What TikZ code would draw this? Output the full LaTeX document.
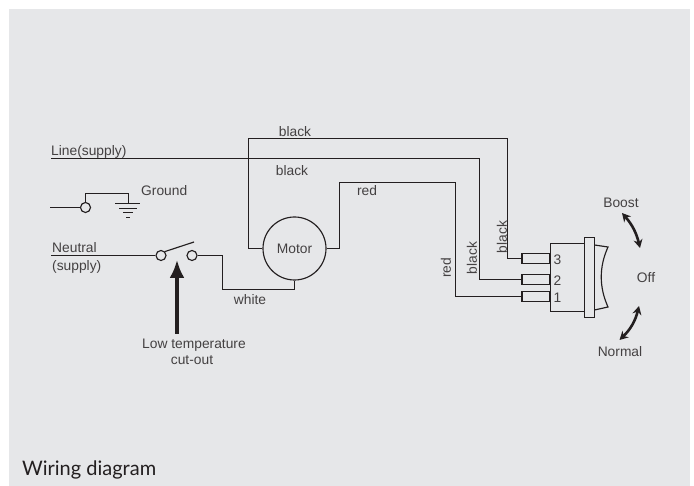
\documentclass[tikz,border=0pt]{standalone}
\usepackage{fontspec}
\newfontfamily\labfont{Liberation Sans}
\newfontfamily\capfont{Lato}
\usetikzlibrary{arrows.meta}
\definecolor{panel}{HTML}{E6E7E9}
\definecolor{ink}{HTML}{231F20}
\tikzset{
  wire/.style={draw=ink,line width=1.15pt},
  lab/.style={font=\labfont\fontsize{13.8}{16}\selectfont,text=ink!85,inner sep=0pt},
  term/.style={circle,draw=ink,line width=1.15pt,minimum size=10pt,inner sep=0pt},
  motorc/.style={circle,draw=ink,line width=1.15pt,minimum size=63pt,inner sep=0pt,font=\labfont\fontsize{13.8}{16}\selectfont,text=ink!85},
  pin/.style={draw=ink,line width=1.15pt,minimum width=28pt,minimum height=10pt,inner sep=0pt,anchor=east},
  body/.style={draw=ink,line width=1.15pt,minimum width=34pt,minimum height=68pt,inner sep=0pt},
  flange/.style={draw=ink,line width=1.15pt,minimum width=10pt,minimum height=80pt,inner sep=0pt},
  dbl/.style={draw=ink,line width=2.6pt,{Stealth[length=8.5pt,width=9pt]}-{Stealth[length=8.5pt,width=9pt]}}
}
\begin{document}
\begin{tikzpicture}[x=1pt,y=-1pt]
\useasboundingbox (0,0) rectangle (694,486);
\fill[panel] (9,9) rectangle (690,486);

% switch body
\node[body] (sw) at (567.5,277.5) {};
\node[flange] (fl) at (589.5,277.5) {};
\draw[wire] (594.5,245) -- (608,247) .. controls (599,267) and (599,287) .. (608,307) -- (594.5,310);
\node[pin] (p3) at (550.5,258.5) {};
\node[pin] (p2) at (550.5,279.5) {};
\node[pin] (p1) at (550.5,296.5) {};
\node[lab] (n3) at (557.5,259.5) {3};
\node[lab] (n2) at (557.5,280.5) {2};
\node[lab] (n1) at (557.5,298) {1};

% motor
\node[motorc] (motor) at (294.5,248.5) {Motor};

% supply and wires
\coordinate (lineS) at (51,158.5);
\draw[wire] (lineS) -- (479.5,158.5) |- (p2.west);
\draw[wire] (motor.west) -- (248.5,248.5) -- (248.5,138.5) -- (507.5,138.5) |- (p3.west);
\draw[wire] (motor.east) -- (339.5,248.5) -- (339.5,182.5) -- (455.5,182.5) |- (p1.west);

% ground
\coordinate (gndS) at (50,207.5);
\node[term] (gt) at (85.5,207.5) {};
\coordinate (gnd) at (128.5,203.5);
\draw[wire] (gndS) -- (gt.west);
\draw[wire] (gt.north) -- (85.5,193.5) -| (gnd);
\draw[wire] (115,203.5) -- (140,203.5);
\draw[wire] (119,208.5) -- (137,208.5);
\draw[wire] (123,212.5) -- (133,212.5);
\draw[wire] (126,217.5) -- (130,217.5);

% cut-out switch
\coordinate (neuS) at (51,255.5);
\node[term] (c1) at (161,255.5) {};
\node[term] (c2) at (192,255.5) {};
\draw[wire] (neuS) -- (c1.west);
\draw[wire] (c1.north east) -- (194,242);
\draw[wire] (c2.east) -- (222.5,255.5) -- (222.5,289.5) -| (motor.south);

% pointer arrow
\coordinate (ptrS) at (177,334);
\coordinate (ptrE) at (177,260);
\draw[draw=ink,line width=3.2pt,-{Latex[length=18pt,width=15pt]}] (ptrS) -- (ptrE);

% rocker arrows
\coordinate (bA) at (622,213);
\coordinate (bB) at (640,248);
\coordinate (nA) at (619.5,340);
\coordinate (nB) at (639,306);
\draw[dbl] (bA) to[bend left=14] (bB);
\draw[dbl] (nA) to[bend right=16] (nB);

% labels
\node[lab] (l1) at (295,132) {black};
\node[lab,anchor=west] (l2) at (51,151.5) {Line(supply)};
\node[lab] (l3) at (292,171) {black};
\node[lab] (l4) at (367,191) {red};
\node[lab,anchor=west] (l5) at (141,191) {Ground};
\node[lab,anchor=west] (l6) at (52,248) {Neutral};
\node[lab,anchor=west] (l7) at (52,266.5) {(supply)};
\node[lab] (l8) at (250,299.5) {white};
\node[lab] (l9) at (194,345.5) {Low temperature};
\node[lab] (l10) at (192,360) {cut-out};
\node[lab,rotate=90] (l11) at (446,268) {red};
\node[lab,rotate=90] (l12) at (472,258) {black};
\node[lab,rotate=90] (l13) at (502,237) {black};
\node[lab] (l14) at (621,203) {Boost};
\node[lab] (l15) at (646,278) {Off};
\node[lab] (l16) at (620,352) {Normal};
\node[anchor=west,inner sep=0pt,text=ink,font=\capfont\fontsize{20}{23}\selectfont] (cap) at (22,470) {Wiring diagram};
\end{tikzpicture}
\end{document}
